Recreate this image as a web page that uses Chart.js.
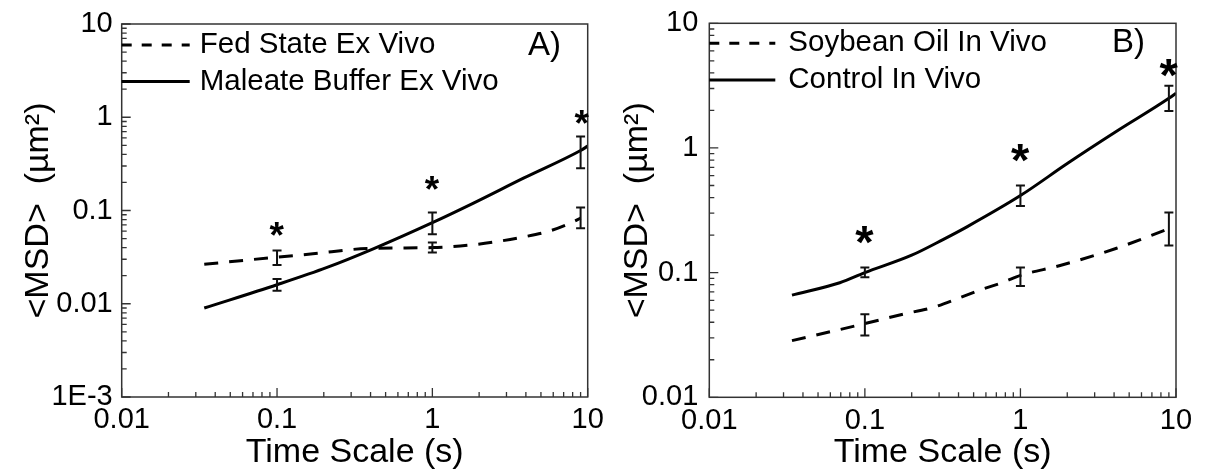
<!DOCTYPE html>
<html>
<head>
<meta charset="utf-8">
<script src="https://cdn.jsdelivr.net/npm/chart.js@4.4.1/dist/chart.umd.min.js"></script>
<style>
  body { margin: 0; background: #fff; }
  #wrap { position: relative; width: 1209px; height: 474px; overflow: hidden; }
  canvas { position: absolute; top: 0; }
  #chartA { left: 0; }
  #chartB { left: 600px; }
</style>
</head>
<body>
<div id="wrap">
  <canvas id="chartA" width="620" height="474"></canvas>
  <canvas id="chartB" width="609" height="474"></canvas>
</div>
<script>
const FONT = "'Liberation Sans', Arial, sans-serif";

// ---- Panel A data ----
const fedX = [0.034, 0.1, 0.17, 0.38, 1, 1.8, 2.6, 3.8, 5.7, 8.3, 9];
const fedY = [0.0265, 0.0316, 0.0343, 0.0391, 0.040, 0.0428, 0.0464, 0.0518, 0.0604, 0.0774, 0.083];
const maleateX = [0.034, 0.1, 0.21, 0.42, 1, 1.84, 3.86, 9, 10];
const maleateY = [0.009, 0.016, 0.0245, 0.039, 0.074, 0.12, 0.222, 0.44, 0.49];
const errXA = [0.1, 1, 9];
const fedLo = [0.0261, 0.0354, 0.0646];
const fedHi = [0.0372, 0.0453, 0.108];
const maleateLo = [0.0138, 0.0557, 0.284];
const maleateHi = [0.0184, 0.095, 0.62];
const starXA = [0.1, 1, 9.2];
const starYA = [0.0635, 0.198, 1.0];
const yTicksA = [0.001, 0.01, 0.1, 1, 10];
const yLabelsA = ['1E-3', '0.01', '0.1', '1', '10'];

// ---- Panel B data ----
const soyX = [0.034, 0.1, 0.17, 0.28, 0.41, 0.56, 0.78, 1, 1.8, 4.15, 9];
const soyY = [0.0285, 0.039, 0.046, 0.053, 0.063, 0.073, 0.084, 0.095, 0.114, 0.157, 0.225];
const controlX = [0.034, 0.069, 0.1, 0.2, 0.32, 0.45, 1, 2, 4.15, 9, 10];
const controlY = [0.066, 0.083, 0.1, 0.138, 0.185, 0.232, 0.415, 0.75, 1.36, 2.5, 2.75];
const errXB = [0.1, 1, 9];
const soyLo = [0.0313, 0.078, 0.165];
const soyHi = [0.0464, 0.110, 0.303];
const controlLo = [0.092, 0.343, 1.98];
const controlHi = [0.110, 0.499, 3.16];
const starXB = [0.1, 1, 9];
const starYB = [0.2, 0.906, 4.36];
const yTicksB = [0.01, 0.1, 1, 10];
const yLabelsB = ['0.01', '0.1', '1', '10'];

const xTicks = [0.01, 0.1, 1, 10];
const xLabels = ['0.01', '0.1', '1', '10'];

function logTicks(decades) {
    // every 1..9 step inside the decade range
    const out = [];
    for (let i = 0; i < decades.length - 1; i++) {
        for (let k = 1; k < 10; k++) out.push({ value: decades[i] * k, major: k === 1 });
    }
    out.push({ value: decades[decades.length - 1], major: true });
    return out;
}

function labelFor(values, labels) {
    return (v) => {
        const i = values.findIndex(t => Math.abs(t - v) / t < 1e-6);
        return i >= 0 ? labels[i] : '';
    };
}

const marksPlugin = {
    id: 'marks',
    afterDatasetsDraw(chart, args, opts) {
        const ctx = chart.ctx;
        const area = chart.chartArea;
        const xs = chart.scales.x, ys = chart.scales.y;
        ctx.save();

        // frame
        ctx.strokeStyle = '#333';
        ctx.lineWidth = 1.5;
        ctx.strokeRect(area.left, area.top, area.right - area.left, area.bottom - area.top);

        // inward tick marks
        ctx.lineWidth = 1.3;
        ctx.beginPath();
        xs.ticks.forEach(t => {
            const px = xs.getPixelForValue(t.value);
            ctx.moveTo(px, area.bottom);
            ctx.lineTo(px, area.bottom - (t.major ? 9 : 5));
        });
        ys.ticks.forEach(t => {
            const py = ys.getPixelForValue(t.value);
            ctx.moveTo(area.left, py);
            ctx.lineTo(area.left + (t.major ? 9 : 5), py);
        });
        ctx.stroke();

        // error bars
        ctx.strokeStyle = '#111';
        ctx.lineWidth = 2;
        chart.data.datasets.forEach(ds => {
            ds.errX.forEach((x, i) => {
                const px = xs.getPixelForValue(x);
                const lo = ys.getPixelForValue(ds.errLo[i]);
                const hi = ys.getPixelForValue(ds.errHi[i]);
                ctx.beginPath();
                ctx.moveTo(px, lo); ctx.lineTo(px, hi);
                ctx.moveTo(px - 4.5, lo); ctx.lineTo(px + 4.5, lo);
                ctx.moveTo(px - 4.5, hi); ctx.lineTo(px + 4.5, hi);
                ctx.stroke();
            });
        });

        // significance stars
        ctx.fillStyle = '#000';
        ctx.font = 'bold ' + opts.starSize + 'px ' + FONT;
        ctx.textAlign = 'left';
        ctx.textBaseline = 'alphabetic';
        const m = ctx.measureText('*');
        opts.starX.forEach((x, i) => {
            const cx = xs.getPixelForValue(x);
            const cy = ys.getPixelForValue(opts.starY[i]);
            const dx = (m.actualBoundingBoxRight - m.actualBoundingBoxLeft) / 2;
            const dy = (m.actualBoundingBoxAscent - m.actualBoundingBoxDescent) / 2;
            ctx.fillText('*', cx - dx, cy + dy);
        });

        // legend inside the plot
        ctx.font = opts.legendSize + 'px ' + FONT;
        ctx.textBaseline = 'middle';
        chart.data.datasets.forEach((ds, i) => {
            const y = opts.legendY[i];
            ctx.strokeStyle = '#000';
            ctx.lineWidth = 3;
            ctx.setLineDash(ds.borderDash.length ? [10, 10] : []);
            ctx.beginPath();
            ctx.moveTo(area.left, y);
            ctx.lineTo(area.left + opts.legendLine, y);
            ctx.stroke();
            ctx.setLineDash([]);
            ctx.fillText(ds.label, area.left + opts.legendText, y);
        });

        // panel letter
        ctx.font = opts.tagSize + 'px ' + FONT;
        ctx.fillText(opts.tag, opts.tagX, opts.tagY);
        ctx.restore();
    }
};

function makePanel(id, cfg) {
    const tickFont = { family: FONT, size: 29 };
    new Chart(document.getElementById(id), {
        type: 'scatter',
        data: {
            datasets: [{
                label: cfg.names[0],
                data: cfg.dashX.map((x, i) => ({ x, y: cfg.dashY[i] })),
                borderDash: [14, 11],
                errX: cfg.errX, errLo: cfg.dashLo, errHi: cfg.dashHi
            }, {
                label: cfg.names[1],
                data: cfg.solidX.map((x, i) => ({ x, y: cfg.solidY[i] })),
                borderDash: [],
                errX: cfg.errX, errLo: cfg.solidLo, errHi: cfg.solidHi
            }].map(ds => Object.assign(ds, {
                showLine: true, borderColor: '#000', borderWidth: 3,
                pointRadius: 0, cubicInterpolationMode: 'monotone', fill: false
            }))
        },
        options: {
            responsive: false,
            animation: false,
            devicePixelRatio: 1,
            layout: { padding: cfg.padding },
            plugins: {
                legend: { display: false },
                tooltip: { enabled: false },
                marks: cfg.marks
            },
            scales: {
                x: {
                    type: 'logarithmic', position: 'bottom', min: 0.01, max: 10,
                    grid: { display: false, drawTicks: false }, border: { display: false },
                    afterBuildTicks: s => { s.ticks = logTicks(xTicks); },
                    afterFit: s => { s.height = cfg.xHeight; s.paddingLeft = 0; s.paddingRight = 0; },
                    ticks: { callback: labelFor(xTicks, xLabels), autoSkip: false, maxRotation: 0,
                             font: tickFont, color: '#000', padding: 6 },
                    title: { display: true, text: 'Time Scale (s)', color: '#000',
                             font: { family: FONT, size: 34 }, padding: { top: 0, bottom: 1 } }
                },
                y: {
                    type: 'logarithmic', position: 'left', min: cfg.yTicks[0], max: 10,
                    grid: { display: false, drawTicks: false }, border: { display: false },
                    afterBuildTicks: s => { s.ticks = logTicks(cfg.yTicks); },
                    afterFit: s => { s.width = cfg.yWidth; s.paddingTop = 0; s.paddingBottom = 0; },
                    ticks: { callback: labelFor(cfg.yTicks, cfg.yLabels), autoSkip: false,
                             font: tickFont, color: '#000', padding: cfg.yPad },
                    title: { display: true, text: '<MSD>  (\u00b5m\u00b2)', color: '#000',
                             font: { family: FONT, size: 34 }, padding: { top: cfg.titlePad, bottom: 0 } }
                }
            }
        },
        plugins: [marksPlugin]
    });
}

makePanel('chartA', {
    names: ['Fed State Ex Vivo', 'Maleate Buffer Ex Vivo'],
    dashX: fedX, dashY: fedY, dashLo: fedLo, dashHi: fedHi,
    solidX: maleateX, solidY: maleateY, solidLo: maleateLo, solidHi: maleateHi,
    errX: errXA, yTicks: yTicksA, yLabels: yLabelsA,
    padding: { left: 0, top: 24, right: 32.3, bottom: 0 },
    xHeight: 77, yWidth: 121.7, yPad: 9, titlePad: 18,
    marks: { starX: starXA, starY: starYA, starSize: 37, legendSize: 29.5,
             legendY: [45, 81.5], legendLine: 68, legendText: 78,
             tag: 'A)', tagSize: 33, tagX: 528, tagY: 46 }
});

makePanel('chartB', {
    names: ['Soybean Oil In Vivo', 'Control In Vivo'],
    dashX: soyX, dashY: soyY, dashLo: soyLo, dashHi: soyHi,
    solidX: controlX, solidY: controlY, solidLo: controlLo, solidHi: controlHi,
    errX: errXB, yTicks: yTicksB, yLabels: yLabelsB,
    padding: { left: 0, top: 23.3, right: 33, bottom: 0 },
    xHeight: 76.7, yWidth: 109.3, yPad: 11, titlePad: 17,
    marks: { starX: starXB, starY: starYB, starSize: 47, legendSize: 29.5,
             legendY: [43.3, 80], legendLine: 66, legendText: 79,
             tag: 'B)', tagSize: 33, tagX: 512, tagY: 43 }
});
</script>
</body>
</html>
